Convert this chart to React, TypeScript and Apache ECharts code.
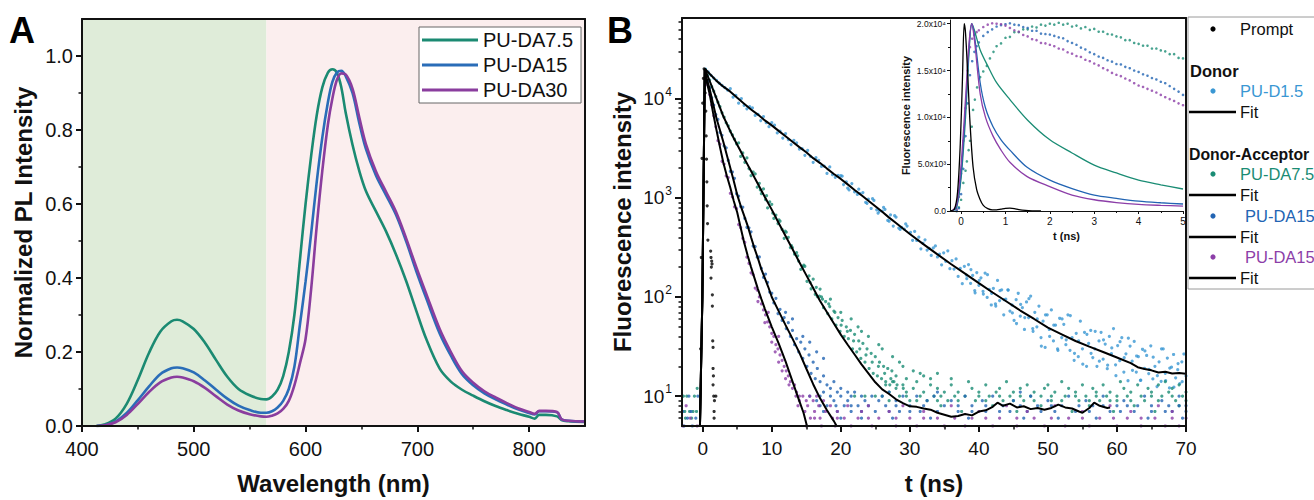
import React, { useEffect, useRef } from 'react';
import * as echarts from 'echarts';

const FONT = '"Liberation Sans", Arial, Helvetica, sans-serif';
const INK = '#111111';

// ---------------- Panel A : PL spectra ----------------
const wavelength = [413, 420, 430, 440, 450, 460, 470, 480, 485, 490, 500, 510, 520, 530, 540, 550, 560, 565, 570, 575, 580, 585, 590, 595, 600, 605, 610, 615, 620, 624, 628, 632, 636, 642, 648, 654, 663, 672, 681, 690, 699, 708, 720, 730, 740, 750, 760, 770, 780, 790, 800, 805, 809, 815, 825, 829, 835, 850];
const plDA75 = [0, 0.004, 0.02, 0.06, 0.125, 0.198, 0.255, 0.283, 0.287, 0.283, 0.262, 0.225, 0.178, 0.133, 0.1, 0.083, 0.073, 0.072, 0.08, 0.098, 0.135, 0.2, 0.3, 0.45, 0.6, 0.73, 0.84, 0.915, 0.955, 0.964, 0.955, 0.915, 0.845, 0.76, 0.69, 0.635, 0.58, 0.526, 0.463, 0.392, 0.312, 0.235, 0.155, 0.12, 0.098, 0.082, 0.067, 0.054, 0.043, 0.033, 0.025, 0.02, 0.03, 0.03, 0.026, 0.016, 0.013, 0.011];
const plDA15 = [0, 0.002, 0.012, 0.035, 0.07, 0.107, 0.14, 0.156, 0.158, 0.156, 0.145, 0.123, 0.098, 0.074, 0.055, 0.043, 0.036, 0.036, 0.04, 0.05, 0.068, 0.1, 0.16, 0.275, 0.39, 0.52, 0.66, 0.78, 0.875, 0.93, 0.955, 0.96, 0.945, 0.9, 0.82, 0.749, 0.677, 0.624, 0.57, 0.499, 0.419, 0.345, 0.25, 0.19, 0.14, 0.11, 0.088, 0.072, 0.058, 0.045, 0.035, 0.031, 0.04, 0.04, 0.037, 0.018, 0.014, 0.012];
const plDA30 = [0, 0.002, 0.01, 0.03, 0.06, 0.092, 0.118, 0.131, 0.133, 0.131, 0.121, 0.103, 0.08, 0.058, 0.042, 0.032, 0.026, 0.025, 0.028, 0.034, 0.046, 0.068, 0.11, 0.17, 0.235, 0.37, 0.54, 0.69, 0.815, 0.885, 0.935, 0.953, 0.95, 0.912, 0.835, 0.762, 0.688, 0.633, 0.578, 0.507, 0.43, 0.357, 0.262, 0.2, 0.148, 0.117, 0.094, 0.077, 0.062, 0.048, 0.038, 0.033, 0.041, 0.041, 0.038, 0.018, 0.014, 0.012];
const donorBand = [400, 565];
const acceptorBand = [565, 850];
const aXTicks = [400, 500, 600, 700, 800];
const aXMinor = [450, 550, 650, 750];
const aYTicks = [0, 0.2, 0.4, 0.6, 0.8, 1.0];
const aYMinor = [0.1, 0.3, 0.5, 0.7, 0.9];

// ---------------- Panel B : TCSPC decays ----------------
const fitD15 = [[-0.4, 5], [-0.05, 100], [0.3, 20000], [1, 17800], [2, 15100], [3, 13200], [4, 11750], [5, 10200], [6, 8900], [7, 7760], [8, 6900], [9, 6030], [10, 5370], [11, 4730], [12, 4170], [13, 3670], [14, 3240], [15, 2880], [16, 2510], [17, 2240], [18, 1970], [19, 1740], [20, 1550], [21, 1365], [22, 1200], [23, 1060], [24, 933], [25, 822], [26, 724], [27, 631], [28, 556], [29, 490], [30, 431], [32, 339], [34, 269], [36, 214], [38, 172], [40, 138], [42, 111], [44, 90], [46, 73], [48, 60], [50, 49], [52, 42], [54, 36], [56, 31.6], [58, 27.9], [60, 24.5], [62, 21.5], [63, 19.6], [64, 18.8], [65, 18.2], [66, 17.3], [67, 17.6], [68, 16.9], [69, 17.1], [70, 16.8]];
const fitDA75 = [[-0.4, 5], [-0.05, 100], [0.3, 20000], [0.6, 17800], [1, 15100], [1.5, 12300], [2, 10000], [2.5, 8130], [3, 6600], [3.5, 5560], [4, 4680], [4.5, 3980], [5, 3430], [5.5, 2950], [6, 2510], [6.5, 2160], [7, 1860], [7.5, 1600], [8, 1380], [9, 1020], [10, 760], [11, 556], [12, 412], [13, 305], [14, 224], [15, 166], [16, 123], [17, 91], [18, 70], [19, 54], [20, 41.7], [21, 33], [22, 26.3], [23, 20.9], [24, 17], [25, 13.8], [26, 11.7], [27, 10.5], [28, 9.3], [29, 8.5], [30, 7.9], [31, 7.8], [32, 7.5], [33, 7.3], [34, 6.8], [35, 6.5], [36, 6.2], [37, 6.3], [38, 6.6], [39, 6.4], [40, 7.0], [41, 7.2], [42, 7.8], [42.7, 8.6], [43.5, 8.0], [44.5, 8.4], [45.5, 7.7], [46.5, 7.9], [47.5, 7.4], [48.5, 7.6], [49.5, 7.3], [50.5, 7.6], [51.5, 8.2], [52.5, 7.7], [53.5, 7.5], [54.5, 7.0], [55, 6.8], [56, 7.6], [56.7, 8.6], [57.5, 8.0], [58.6, 7.6], [59, 7.7]];
const fitDA15 = [[-0.4, 5], [-0.05, 100], [0.3, 19500], [0.6, 15800], [1, 12600], [1.5, 8900], [2, 6300], [2.5, 4790], [3, 3630], [3.5, 2690], [4, 2000], [4.5, 1480], [5, 1070], [5.5, 830], [6, 660], [6.5, 525], [7, 400], [7.5, 309], [8, 245], [8.5, 190], [9, 155], [9.5, 126], [10, 100], [11, 72], [12, 52], [13, 38], [14, 27.5], [15, 19], [16, 13.2], [17, 9.5], [18, 7.2], [19, 5.6], [19.4, 5]];
const fitDA30 = [[-0.4, 5], [-0.05, 100], [0.3, 19500], [0.6, 14500], [1, 11200], [1.5, 7200], [2, 4800], [2.5, 3240], [3, 2240], [3.5, 1660], [4, 1260], [4.5, 930], [5, 710], [5.5, 500], [6, 355], [6.5, 263], [7, 200], [7.5, 155], [8, 120], [8.5, 95], [9, 76], [10, 50], [11, 34], [12, 22.4], [13, 14.1], [14, 8.9], [14.6, 6.8], [15.1, 5]];

const dotsD15 = [[0.4, 19800], [0.8, 18600], [1.2, 17200], [1.6, 16100], [2.0, 15300], [2.4, 14300], [2.8, 13600], [3.2, 12900], [3.6, 12200],
  [4.0, 12600], [4.4, 10340], [4.8, 10800], [5.2, 9000], [5.6, 10000], [6.0, 8540], [6.4, 7900], [6.8, 8300], [7.2, 8060], [7.6, 6770], [8.0, 6940], [8.4, 6000], [8.8, 6590], [9.2, 5720], [9.6, 5210], [10.0, 5720], [10.4, 5400], [10.8, 4510], [11.2, 4690], [11.6, 4000], [12.0, 4430], [12.4, 3860], [12.8, 3440], [13.2, 3800], [13.6, 3580], [14.0, 3100], [14.4, 3140], [14.8, 2680], [15.2, 3000], [15.6, 2620], [16.0, 2280], [16.4, 2540], [16.8, 2390], [17.2, 2070], [17.6, 2090], [18.0, 1760], [18.4, 2050], [18.8, 1710], [19.2, 1610], [19.6, 1680], [20.0, 1670], [20.2, 1650], [20.4, 1360], [20.8, 1450], [21.0, 1250], [21.2, 1200], [21.6, 1390], [22.0, 1145], [22.4, 1080], [22.6, 1220], [22.8, 1100], [23.2, 1130], [23.6, 900], [23.8, 880], [24.0, 970], [24.4, 780], [24.6, 980], [24.8, 940], [25.2, 757], [25.4, 700], [25.6, 735], [26.0, 735], [26.2, 800], [26.4, 763], [26.8, 592], [27.0, 580], [27.2, 673], [27.6, 519], [27.8, 660], [28.0, 637], [28.4, 495], [28.6, 480], [28.8, 502], [29.2, 483], [29.4, 545], [29.6, 519],
  [30.1, 448], [30.4, 373], [30.7, 458], [31.0, 371], [31.3, 401], [31.6, 306], [31.9, 348], [32.2, 377], [32.5, 297], [32.8, 309], [33.1, 262], [33.4, 312], [33.7, 327], [34.0, 253], [34.3, 271], [34.6, 211], [34.9, 279], [35.2, 229], [35.5, 292], [35.8, 193], [36.1, 232], [36.4, 191], [36.7, 242], [37.0, 161], [37.3, 194], [37.6, 136], [37.9, 204], [38.2, 166], [38.5, 212], [38.8, 137], [39.1, 165], [39.4, 116], [39.7, 176], [40.0, 131], [40.3, 156], [40.6, 114], [40.9, 174], [41.2, 99], [41.5, 119], [41.8, 83], [42.1, 122], [42.4, 85], [42.7, 147], [43.0, 92], [43.3, 118], [43.6, 66], [43.9, 95], [44.2, 118], [44.5, 72], [44.8, 83], [45.1, 58], [45.4, 94], [45.7, 109], [46.0, 64], [46.3, 78], [46.6, 47], [46.9, 89], [47.2, 62], [47.5, 102], [47.8, 48], [48.1, 70], [48.4, 50], [48.7, 81], [49.0, 39], [49.3, 57], [49.6, 31], [49.9, 66], [50.2, 47], [50.5, 74], [50.8, 36], [51.1, 52], [51.4, 30], [51.7, 61], [52.0, 39], [52.3, 53], [52.6, 33], [52.9, 66], [53.2, 29], [53.5, 39], [53.8, 23], [54.1, 43], [54.4, 25], [54.7, 57], [55.0, 30], [55.3, 44], [55.6, 20], [55.9, 34], [56.2, 46], [56.5, 24.5], [56.8, 30], [57.1, 20], [57.4, 36], [57.7, 44], [58.0, 23.6], [58.3, 33.5], [58.6, 18.9], [58.9, 40], [59.2, 26.8], [59.5, 48], [59.8, 20.7], [60.1, 32.4], [60.4, 22.8], [60.7, 38.9], [61.0, 17.5], [61.3, 26.7], [61.6, 14.3], [61.9, 32], [62.2, 22.5], [62.5, 35.6], [62.8, 17.5], [63.1, 25], [63.4, 14.4], [63.7, 29.7], [64.0, 19.1], [64.3, 25.7], [64.6, 16.9], [64.9, 32.2], [65.2, 14.9], [65.5, 20], [65.8, 12.5], [66.1, 22.2], [66.4, 14.1], [66.7, 29.9], [67.0, 17], [67.3, 24.2], [67.6, 12.1], [67.9, 19.6], [68.2, 26.3], [68.5, 15.3], [68.8, 18.5], [69.1, 13.4], [69.4, 22.2], [69.7, 26.6], [70.0, 16],
  [38.25, 153], [38.85, 189], [39.45, 110], [40.05, 147], [40.65, 107], [41.25, 168], [41.85, 109], [42.45, 81], [43.05, 116], [43.65, 94], [44.25, 117], [44.85, 69], [45.45, 54], [46.05, 84], [46.65, 62], [47.25, 96], [47.85, 45], [48.45, 60], [49.05, 32], [49.65, 66], [50.25, 40], [50.85, 52], [51.45, 29], [52.05, 60], [52.65, 37], [53.25, 65], [53.85, 27], [54.45, 36], [55.05, 21], [55.65, 42], [56.25, 27], [56.85, 45], [57.45, 22.5], [58.05, 37], [58.65, 20.5], [59.25, 30.6], [59.85, 16.1], [60.45, 35.4], [61.05, 24.4], [61.65, 38.4], [62.25, 18.2], [62.85, 25.4], [63.45, 14.5], [64.05, 28.6], [64.65, 18.6], [65.25, 24.7], [65.85, 16.1], [66.45, 30], [67.05, 14.3], [67.65, 19.2], [68.25, 12.3], [68.85, 21.3], [69.45, 14]];

const dotsDA75 = [[0.4, 19500], [0.7, 17200], [1.0, 15400], [1.3, 13200], [1.6, 11900], [1.9, 10500], [2.2, 9200], [2.5, 8300], [2.8, 7200], [3.1, 6500], [3.4, 5700], [3.7, 5300], [4.0, 4700], [4.3, 4300], [4.6, 3900], [4.9, 3500],
  [5.2, 3575], [5.5, 2610], [5.8, 2835], [6.1, 2280], [6.4, 2520], [6.7, 1970], [7.0, 1670], [7.3, 1820], [7.6, 1740], [7.9, 1280], [8.2, 1400], [8.35, 1200], [8.5, 1100], [8.8, 1230], [9.1, 960], [9.25, 1050], [9.4, 790], [9.7, 910], [10.0, 860], [10.15, 700], [10.3, 620], [10.6, 670], [10.9, 550], [11.05, 600], [11.2, 580], [11.5, 480], [11.8, 390], [11.95, 460], [12.1, 450], [12.4, 400], [12.7, 315], [12.85, 330], [13.0, 315], [13.3, 270], [13.6, 280], [13.75, 260], [13.9, 230], [14.2, 190], [14.5, 203], [14.65, 210], [14.8, 204], [15.1, 144], [15.4, 163], [15.55, 140], [15.7, 121], [16.0, 151], [16.3, 106], [16.45, 125], [16.6, 101], [16.9, 102],
  [17.0, 120], [17.2, 100], [17.35, 95], [17.5, 78], [17.8, 90], [18.1, 68], [18.25, 85], [18.4, 80], [18.5, 95], [18.7, 60], [19.0, 72], [19.15, 70], [19.3, 52], [19.6, 62], [19.9, 45], [20.0, 70], [20.05, 52], [20.2, 58], [20.5, 40], [20.8, 50], [20.95, 45], [21.1, 38], [21.4, 46], [21.5, 60], [21.7, 30], [21.85, 36], [22.0, 42], [22.3, 28], [22.5, 50], [22.6, 36], [22.75, 30], [22.9, 24], [23.0, 45], [23.2, 34], [23.5, 22], [23.65, 26], [23.8, 30], [24.0, 40], [24.1, 19], [24.4, 27], [24.55, 22], [24.7, 17], [25.0, 25], [25.3, 16], [25.45, 20], [25.5, 33], [25.6, 22], [25.9, 15], [26.0, 30], [26.2, 20], [26.35, 17], [26.5, 14], [26.8, 19], [27.1, 13], [27.25, 15], [27.4, 18], [27.5, 25], [27.7, 14], [28.0, 16], [28.15, 13], [28.5, 22], [29.0, 20], [29.05, 12], [29.5, 15], [30.5, 18], [31.5, 17], [32.0, 16], [33.0, 15], [34.0, 17], [36.0, 15]];
const floorDA75 = [[-2.8, 10], [-2.3, 10], [-1.2, 10], [-2.6, 7], [-1.9, 7], [-1.4, 7], [-0.9, 7], [-2.5, 6], [-1.6, 6], [-0.8, 12],
  [27.5, 14], [31, 14], [38.5, 14], [44, 14], [52, 14], [60.5, 14], [67, 14],
  [26.5, 13], [29, 13], [33, 13], [36, 13], [41, 13], [47, 13], [50, 13], [55, 13], [58, 13], [63, 13], [66, 13], [69, 13],
  [28, 12], [30.5, 12], [34, 12], [39, 12], [43, 12], [46, 12], [49.5, 12], [53, 12], [56.5, 12], [61, 12], [64.5, 12], [68, 12],
  [27, 11], [29.5, 11], [32, 11], [35, 11], [37, 11], [40, 11], [42.5, 11], [45, 11], [48, 11], [51, 11], [54, 11], [57, 11], [59, 11], [62, 11], [65, 11], [67.5, 11], [70, 11],
  [22, 10], [23.5, 10], [25, 10], [26, 10], [28.5, 10], [29.5, 10], [31.5, 10], [33.5, 10], [34.5, 10], [36.5, 10], [38, 10], [40, 10], [41.5, 10], [43, 10], [44.5, 10], [46, 10], [47.5, 10], [49, 10], [50.5, 10], [52.5, 10], [54, 10], [55.5, 10], [57, 10], [58.5, 10], [60, 10], [61.5, 10], [63.5, 10], [65, 10], [66.5, 10], [68, 10], [69.5, 10],
  [27, 9], [30, 9], [31, 9], [32.5, 9], [34, 9], [35.5, 9], [37, 9], [39.5, 9], [41, 9], [43.5, 9], [45, 9], [46.5, 9], [48, 9], [50.5, 9], [52, 9], [54.5, 9], [56, 9], [57.5, 9], [59, 9], [60, 9], [62, 9], [64, 9], [66, 9], [68.5, 9], [70, 9],
  [34.5, 8], [42, 8], [49, 8], [56, 8], [62.5, 8], [69, 8],
  [37.5, 7], [45.5, 7], [53.5, 7], [59.5, 7], [65.5, 7]];

const dotsDA15 = [[0.4, 19000], [0.7, 15000], [1.0, 12800], [1.3, 10200], [1.6, 8600], [1.9, 6900], [2.2, 6160], [2.5, 4560], [2.8, 4260], [3.1, 3330], [3.4, 3190], [3.7, 2380], [4.0, 1850], [4.3, 1820], [4.6, 1570], [4.9, 1100], [5.2, 1040], [5.5, 817], [5.8, 803], [6.1, 620], [6.4, 504], [6.7, 498], [7.0, 454], [7.3, 326], [7.6, 322], [7.9, 252], [8.2, 253], [8.5, 194], [8.8, 158], [9.1, 170], [9.4, 140], [9.7, 112], [10.0, 109], [10.3, 87], [10.6, 97], [10.9, 68], [11.2, 75], [11.5, 58], [11.8, 62], [12.0, 70], [12.1, 48], [12.4, 55], [12.7, 40], [13.0, 46], [13.0, 60], [13.3, 33], [13.6, 38], [13.9, 28], [14.2, 35], [14.5, 24], [14.5, 40], [14.8, 30], [15.1, 20], [15.4, 26], [15.5, 35], [15.7, 17], [16.0, 22], [16.3, 15], [16.5, 28], [16.6, 19], [17.0, 14], [17.5, 16], [17.5, 24], [18.0, 13], [18.5, 12], [19.0, 14], [20.0, 12], [21.0, 11]];
const floorDA15 = [[-2.0, 10], [-0.7, 10], [-2.9, 7], [-1.7, 7], [-2.2, 6], [-1.0, 6], [-2.7, 5], [-1.5, 5],
  [17.5, 11], [19.5, 11], [22, 11], [27, 11], [34, 11], [46, 11],
  [15.5, 10], [17, 10], [18.5, 10], [20, 10], [21.5, 10], [23, 10], [24.5, 10], [26, 10], [29, 10], [31, 10], [33.5, 10], [38, 10], [42, 10], [47.5, 10], [53, 10], [58, 10], [64, 10], [69, 10],
  [16.5, 9], [19, 9], [21, 9], [23.5, 9], [25.5, 9], [28, 9], [32.5, 9], [36, 9], [40.5, 9], [45, 9], [50, 9], [55.5, 9], [61, 9], [66.5, 9],
  [17, 8], [18, 8], [19.3, 8], [20.5, 8], [21.5, 8], [22.5, 8], [24, 8], [26.5, 8], [28, 8], [30, 8], [32, 8], [35, 8], [37, 8], [39, 8], [41, 8], [43.5, 8], [46, 8], [48.5, 8], [50.5, 8], [52, 8], [54.5, 8], [56.5, 8], [58, 8], [60, 8], [61.5, 8], [63, 8], [65, 8], [67.5, 8], [69, 8], [70, 8],
  [17.5, 7], [19.5, 7], [21.5, 7], [23, 7], [25, 7], [27, 7], [28.5, 7], [30, 7], [31.5, 7], [34, 7], [37, 7], [39, 7], [41, 7], [43, 7], [44.5, 7], [47, 7], [49, 7], [51, 7], [54, 7], [56, 7], [59, 7], [60.5, 7], [62.5, 7], [65, 7], [67, 7], [68, 7], [70, 7],
  [20, 6], [23, 6], [27.5, 6], [33, 6], [38.5, 6], [46.5, 6], [51.5, 6], [57, 6], [64.5, 6], [69.5, 6]];

const dotsDA30 = [[0.4, 18500], [0.7, 13800], [1.0, 11000], [1.3, 8600], [1.6, 6700], [1.9, 5200], [2.2, 3770], [2.5, 3470], [2.8, 2330], [3.1, 2190], [3.4, 1660], [3.7, 1600], [4.0, 1110], [4.3, 1020], [4.6, 810], [4.9, 777], [5.2, 537], [5.5, 500], [5.8, 390], [6.1, 356], [6.4, 252], [6.7, 218], [7.0, 175], [7.3, 168], [7.6, 123], [7.9, 117], [8.0, 90], [8.2, 100], [8.5, 85], [8.8, 74], [9.0, 55], [9.1, 66], [9.4, 56], [9.5, 70], [9.7, 50], [10.0, 43], [10.0, 35], [10.3, 40], [10.5, 28], [10.6, 33], [10.9, 30], [11.0, 22], [11.0, 40], [11.2, 26], [11.5, 23], [11.5, 18], [11.8, 20], [12.0, 15], [12.1, 18], [12.4, 16], [12.5, 13], [12.7, 14], [13.0, 12], [13.3, 13], [13.6, 11], [14.0, 10]];
const floorDA30 = [[-2.4, 8], [-1.8, 6], [-2.9, 5], [-0.8, 5],
  [13.5, 10], [14.5, 10], [15.5, 10], [16.5, 10],
  [14, 9], [15, 9], [16, 9], [17.5, 9],
  [13.8, 8], [15.2, 8], [16.8, 8], [18.5, 8], [21, 8], [24, 8], [29, 8], [36, 8], [44, 8], [51, 8], [59, 8], [66, 8],
  [14.8, 7], [16.2, 7], [17.8, 7], [19.5, 7], [23, 7], [27, 7], [32, 7], [40, 7], [47, 7], [55, 7], [62, 7], [68, 7],
  [15.6, 6], [16.2, 6], [17, 6], [18.8, 6], [19.5, 6], [20.5, 6], [22.5, 6], [24, 6], [25.5, 6], [28, 6], [30, 6], [32, 6], [34, 6], [36.5, 6], [39, 6], [41, 6], [43, 6], [45.5, 6], [48, 6], [50.5, 6], [53, 6], [55, 6], [57.5, 6], [59.5, 6], [61.5, 6], [63.5, 6], [65.5, 6], [68, 6], [70, 6],
  [15, 5], [17.2, 5], [19.2, 5], [21.5, 5], [24.5, 5], [28, 5], [31, 5], [35, 5], [38, 5], [42, 5], [45.5, 5], [49.5, 5], [52.5, 5], [56, 5], [60, 5], [63.5, 5], [67, 5], [69, 5]];

const promptDots = [[-0.3, 30], [-0.2, 250], [-0.1, 2500], [0.0, 9000], [0.1, 16000], [0.2, 20000], [0.35, 11400], [0.45, 7500], [0.5, 4200], [0.55, 2450], [0.6, 1450], [0.65, 830], [0.7, 550], [0.75, 375], [1.15, 290], [1.2, 250], [1.3, 230], [1.25, 200], [1.35, 215], [1.2, 155], [1.4, 105], [1.4, 81], [1.45, 36], [1.5, 31], [1.5, 19], [1.55, 16], [1.5, 13], [1.6, 10], [1.9, 10], [1.7, 9], [1.65, 7], [1.65, 6]];

const bXTicks = [0, 10, 20, 30, 40, 50, 60, 70];
const bXMinor = [5, 15, 25, 35, 45, 55, 65];
const bYMin = 5;
const bYMax = 65000;
const bYDecades = [10, 100, 1000, 10000];
const bYMinor = [6, 7, 8, 9, 20, 30, 40, 50, 60, 70, 80, 90, 200, 300, 400, 500, 600, 700, 800, 900, 2000, 3000, 4000, 5000, 6000, 7000, 8000, 9000, 20000, 30000, 40000, 50000, 60000];

// ---------------- Inset ----------------
const insetPrompt = [[-0.25, 0], [-0.15, 200], [-0.08, 2000], [-0.02, 7000], [0.03, 14000], [0.07, 20000], [0.1, 19000], [0.15, 14500], [0.2, 9500], [0.27, 4700], [0.35, 2300], [0.43, 1200], [0.5, 600], [0.6, 250], [0.7, 120], [0.8, 120], [0.9, 200], [1.0, 280], [1.1, 300], [1.2, 250], [1.3, 150], [1.45, 60], [1.6, 20], [1.8, 0]];
const insetLineDA75 = [[-0.2, 0], [-0.1, 400], [0, 3500], [0.1, 10000], [0.18, 17000], [0.24, 20000], [0.3, 19300], [0.43, 17200], [0.6, 15500], [0.8, 13700], [1.1, 11900], [1.5, 9700], [2, 7600], [2.5, 6200], [3, 4900], [3.5, 4060], [4, 3300], [4.5, 2800], [5, 2350]];
const insetLineDA15 = [[-0.2, 0], [-0.1, 500], [0, 4000], [0.1, 11000], [0.18, 17500], [0.24, 20000], [0.3, 18800], [0.43, 13700], [0.55, 11000], [0.72, 9000], [0.9, 7600], [1.1, 6500], [1.48, 4700], [2, 3300], [2.5, 2400], [3, 1700], [3.5, 1350], [4, 1050], [4.5, 880], [5, 750]];
const insetLineDA30 = [[-0.2, 0], [-0.1, 700], [0, 5000], [0.1, 12000], [0.18, 18000], [0.24, 20000], [0.3, 18300], [0.43, 12500], [0.55, 10000], [0.72, 8000], [0.9, 6500], [1.1, 5200], [1.48, 3700], [2, 2600], [2.5, 1700], [3, 1200], [3.5, 900], [4, 700], [4.5, 600], [5, 530]];
const insetDotsDA75 = [[-0.1, 0], [-0.05, 400], [0, 1200], [0.05, 3000], [0.1, 4300], [0.13, 5300], [0.17, 6500], [0.2, 7500], [0.24, 9000], [0.27, 10800], [0.31, 11900], [0.36, 13200], [0.43, 14300], [0.5, 14900], [0.58, 15500], [0.65, 16300], [0.73, 17000], [0.8, 17600], [0.9, 17900], [1.0, 18500], [1.1, 18600], [1.2, 19100], [1.3, 19100], [1.4, 19400], [1.5, 19400], [1.6, 19700], [1.7, 19600], [1.8, 19900], [1.9, 19800], [2.0, 20000], [2.1, 19900], [2.2, 20100], [2.3, 19900], [2.4, 20000], [2.5, 19700], [2.6, 19800], [2.7, 19500], [2.8, 19650], [2.9, 19350], [3.0, 19450], [3.1, 19150], [3.2, 19150], [3.3, 18900], [3.4, 18850], [3.5, 18650], [3.6, 18550], [3.7, 18250], [3.8, 18250], [3.9, 17950], [4.0, 17850], [4.1, 17650], [4.2, 17650], [4.3, 17350], [4.4, 17350], [4.5, 17150], [4.6, 17050], [4.7, 16750], [4.8, 16750], [4.9, 16350], [5.0, 16300]];
const insetDotsDA15 = [[-0.1, 0], [-0.05, 300], [0, 1800], [0.05, 4500], [0.1, 8000], [0.15, 11500], [0.2, 14500], [0.25, 16000], [0.3, 17000], [0.35, 17600], [0.4, 18000], [0.5, 18700], [0.6, 19100], [0.7, 19400], [0.8, 19700], [0.9, 19850], [1.0, 19950], [1.1, 20050], [1.2, 19900], [1.3, 19850], [1.4, 19650], [1.5, 19550], [1.6, 19250], [1.7, 19250], [1.8, 18950], [1.9, 18900], [2.0, 18850], [2.1, 18700], [2.2, 18550], [2.3, 18450], [2.4, 18150], [2.5, 17950], [2.6, 17750], [2.7, 17450], [2.8, 17250], [2.9, 16950], [3.0, 16750], [3.1, 16500], [3.2, 16350], [3.3, 16100], [3.4, 15950], [3.5, 15700], [3.6, 15650], [3.7, 15400], [3.8, 15250], [3.9, 15000], [4.0, 14850], [4.1, 14600], [4.2, 14450], [4.3, 14200], [4.4, 14050], [4.5, 13800], [4.6, 13650], [4.7, 13350], [4.8, 13050], [4.9, 12750], [5.0, 12400]];
const insetDotsDA30 = [[-0.1, 200], [-0.05, 1500], [0, 4000], [0.05, 7500], [0.1, 11000], [0.15, 15000], [0.2, 17500], [0.25, 18400], [0.3, 18800], [0.35, 19100], [0.4, 19300], [0.5, 19650], [0.6, 19900], [0.7, 20050], [0.8, 20000], [0.9, 19950], [1.0, 19800], [1.1, 19550], [1.2, 19300], [1.3, 19150], [1.4, 18800], [1.5, 18650], [1.6, 18350], [1.7, 18250], [1.8, 17950], [1.9, 17900], [2.0, 17750], [2.1, 17600], [2.2, 17350], [2.3, 17250], [2.4, 16950], [2.5, 16800], [2.6, 16550], [2.7, 16450], [2.8, 16150], [2.9, 16000], [3.0, 15750], [3.1, 15550], [3.2, 15250], [3.3, 15050], [3.4, 14750], [3.5, 14550], [3.6, 14400], [3.7, 14150], [3.8, 13950], [3.9, 13650], [4.0, 13400], [4.1, 13250], [4.2, 13050], [4.3, 12850], [4.4, 12650], [4.5, 12400], [4.6, 12150], [4.7, 11950], [4.8, 11750], [4.9, 11500], [5.0, 11300]];
const insetXTicks = [0, 1, 2, 3, 4, 5];
const insetXMinor = [0.5, 1.5, 2.5, 3.5, 4.5];
const insetYTicks = [0, 5000, 10000, 15000, 20000];
const insetYMinor = [2500, 7500, 12500, 17500];
const insetYLabels = ['0.0', '5.0x10³', '1.0x10⁴', '1.5x10⁴', '2.0x10⁴'];

// colours
const A_GREEN = '#1b8a72';
const A_BLUE = '#2a6db8';
const A_PURPLE = '#8a3d9e';
const C_D15 = '#3a97d3';
const C_DA75 = '#1a8c74';
const C_DA15 = '#2264b3';
const C_DA30 = '#8c3ea8';

function lineAxis(gridIndex: number, position: string, extra: any = {}) {
  return {
    type: 'value', gridIndex, position, min: 0, max: 1, z: 5,
    axisLine: { show: true, onZero: false, lineStyle: { color: INK, width: 2 } },
    axisTick: { show: false }, axisLabel: { show: false }, splitLine: { show: false },
    ...extra,
  };
}
function tickAxis(gridIndex: number, position: string, min: number, max: number, values: number[], len: number, width: number) {
  return {
    type: 'value', gridIndex, position, min, max, z: 5,
    axisLine: { show: false, onZero: false },
    axisTick: { show: true, customValues: values, length: len, lineStyle: { color: INK, width } },
    axisLabel: { show: false }, splitLine: { show: false },
  };
}

function buildOption() {
  const xAxis: any[] = [
    {
      type: 'value', gridIndex: 0, position: 'bottom', min: 400, max: 850, z: 5,
      axisLine: { show: true, onZero: false, lineStyle: { color: INK, width: 2 } },
      axisTick: { show: true, customValues: aXTicks, length: 6, lineStyle: { color: INK, width: 2 } },
      axisLabel: { customValues: aXTicks, fontSize: 20, color: INK, margin: 13, fontFamily: FONT },
      splitLine: { show: false },
      name: 'Wavelength (nm)', nameLocation: 'middle', nameGap: 45,
      nameTextStyle: { fontSize: 24, fontWeight: 'bold', color: INK, fontFamily: FONT },
    },
    tickAxis(0, 'bottom', 400, 850, aXMinor, 3.5, 1.5),
    lineAxis(0, 'top'),
    {
      type: 'value', gridIndex: 1, position: 'bottom', min: -3, max: 70, z: 5,
      axisLine: { show: true, onZero: false, lineStyle: { color: INK, width: 2 } },
      axisTick: { show: true, customValues: bXTicks, length: 6, lineStyle: { color: INK, width: 2 } },
      axisLabel: { customValues: bXTicks, fontSize: 19, color: INK, margin: 13, fontFamily: FONT },
      splitLine: { show: false },
      name: 't (ns)', nameLocation: 'middle', nameGap: 45,
      nameTextStyle: { fontSize: 24, fontWeight: 'bold', color: INK, fontFamily: FONT },
    },
    tickAxis(1, 'bottom', -3, 70, bXMinor, 3.5, 1.5),
    lineAxis(1, 'top'),
    {
      type: 'value', gridIndex: 2, position: 'bottom', min: -0.25, max: 5, z: 6,
      axisLine: { show: true, onZero: false, lineStyle: { color: INK, width: 1 } },
      axisTick: { show: true, customValues: insetXTicks, length: 3, lineStyle: { color: INK, width: 1 } },
      axisLabel: { customValues: insetXTicks, fontSize: 10, color: INK, margin: 5, fontFamily: FONT },
      splitLine: { show: false },
      name: 't (ns)', nameLocation: 'middle', nameGap: 19,
      nameTextStyle: { fontSize: 11, fontWeight: 'bold', color: INK, fontFamily: FONT },
    },
    tickAxis(2, 'bottom', -0.25, 5, insetXMinor, 2, 1),
  ];
  const yAxis: any[] = [
    {
      type: 'value', gridIndex: 0, position: 'left', min: 0, max: 1.1, z: 5,
      axisLine: { show: true, onZero: false, lineStyle: { color: INK, width: 2 } },
      axisTick: { show: true, customValues: aYTicks, length: 6, lineStyle: { color: INK, width: 2 } },
      axisLabel: { customValues: aYTicks, fontSize: 20, color: INK, margin: 9, fontFamily: FONT, formatter: (v: number) => v.toFixed(1) },
      splitLine: { show: false },
      name: 'Normalized PL Intensity', nameLocation: 'middle', nameGap: 47,
      nameTextStyle: { fontSize: 24, fontWeight: 'bold', color: INK, fontFamily: FONT },
    },
    tickAxis(0, 'left', 0, 1.1, aYMinor, 3.5, 1.5),
    lineAxis(0, 'right'),
    {
      type: 'log', gridIndex: 1, position: 'left', min: bYMin, max: bYMax, logBase: 10, z: 5,
      axisLine: { show: true, onZero: false, lineStyle: { color: INK, width: 2 } },
      axisTick: { show: false },
      axisLabel: {
        color: INK, margin: 10, fontFamily: FONT,
        formatter: (v: number) => {
          const e = Math.round(Math.log10(v));
          if (Math.abs(Math.log10(v) - e) > 1e-6 || bYDecades.indexOf(Math.pow(10, e)) < 0) return '';
          return `{b|10}{s|${e}}`;
        },
        rich: {
          b: { fontSize: 19, lineHeight: 26, color: INK, fontFamily: FONT },
          s: { fontSize: 12, lineHeight: 14, verticalAlign: 'top', color: INK, fontFamily: FONT, padding: [0, 0, 0, 1] },
        },
      },
      splitLine: { show: false },
      name: 'Fluorescence intensity', nameLocation: 'middle', nameGap: 48,
      nameTextStyle: { fontSize: 24, fontWeight: 'bold', color: INK, fontFamily: FONT },
    },
    tickAxis(1, 'left', Math.log10(bYMin), Math.log10(bYMax), bYDecades.map(Math.log10), 7, 2),
    tickAxis(1, 'left', Math.log10(bYMin), Math.log10(bYMax), bYMinor.map(Math.log10), 3.5, 1.5),
    lineAxis(1, 'right'),
    {
      type: 'value', gridIndex: 2, position: 'left', min: 0, max: 20400, z: 6,
      axisLine: { show: true, onZero: false, lineStyle: { color: INK, width: 1 } },
      axisTick: { show: true, customValues: insetYTicks, length: 3, lineStyle: { color: INK, width: 1 } },
      axisLabel: {
        customValues: insetYTicks, fontSize: 8.5, color: INK, margin: 4, fontFamily: FONT,
        formatter: (v: number) => insetYLabels[insetYTicks.indexOf(v)] ?? '',
      },
      splitLine: { show: false },
      name: 'Fluorescence intensity', nameLocation: 'middle', nameGap: 39,
      nameTextStyle: { fontSize: 11, fontWeight: 'bold', color: INK, fontFamily: FONT },
    },
    tickAxis(2, 'left', 0, 20400, insetYMinor, 2, 1),
  ];

  const pairs = (xs: number[], ys: number[]) => xs.map((x, i) => [x, ys[i]]);
  const aLine = (name: string, ys: number[], color: string) => ({
    name, type: 'line', xAxisIndex: 0, yAxisIndex: 0, data: pairs(wavelength, ys),
    showSymbol: false, smooth: 0.35, color, lineStyle: { color, width: 2.6 }, z: 3, silent: true,
  });
  const bDots = (name: string, data: number[][], color: string, size = 3.2) => ({
    name, type: 'scatter', xAxisIndex: 3, yAxisIndex: 3, data, symbol: 'circle', symbolSize: size,
    itemStyle: { color }, z: 2, silent: true,
  });
  const bFit = (name: string, data: number[][]) => ({
    name, type: 'line', xAxisIndex: 3, yAxisIndex: 3, data, showSymbol: false,
    lineStyle: { color: '#000', width: 2 }, z: 4, silent: true,
  });
  const iLine = (name: string, data: number[][], color: string, w = 1.3) => ({
    name, type: 'line', xAxisIndex: 6, yAxisIndex: 7, data, showSymbol: false, smooth: 0.3,
    lineStyle: { color, width: w }, z: 4, silent: true,
  });
  const iDots = (name: string, data: number[][], color: string) => ({
    name, type: 'scatter', xAxisIndex: 6, yAxisIndex: 7, data, symbolSize: 2.6,
    itemStyle: { color }, z: 3, silent: true,
  });

  const series: any[] = [
    {
      name: 'bands', type: 'line', xAxisIndex: 0, yAxisIndex: 0, data: [], silent: true,
      markArea: {
        silent: true,
        data: [
          [{ xAxis: donorBand[0], itemStyle: { color: '#dfecd9' } }, { xAxis: donorBand[1] }],
          [{ xAxis: acceptorBand[0], itemStyle: { color: '#fbeeee' } }, { xAxis: acceptorBand[1] }],
        ],
      },
    },
    aLine('PU-DA7.5', plDA75, A_GREEN),
    aLine('PU-DA15', plDA15, A_BLUE),
    aLine('PU-DA30', plDA30, A_PURPLE),

    bDots('b D1.5', dotsD15, C_D15),
    bDots('b DA7.5', dotsDA75.concat(floorDA75), C_DA75),
    bDots('b DA15', dotsDA15.concat(floorDA15), C_DA15),
    bDots('b DA30', dotsDA30.concat(floorDA30), C_DA30),
    bDots('b prompt', promptDots, '#000'),
    bFit('fit D1.5', fitD15),
    bFit('fit DA7.5', fitDA75),
    bFit('fit DA15', fitDA15),
    bFit('fit DA30', fitDA30),

    iDots('i DA7.5', insetDotsDA75, C_DA75),
    iDots('i DA15', insetDotsDA15, C_DA15),
    iDots('i DA30', insetDotsDA30, C_DA30),
    iLine('i L DA7.5', insetLineDA75, C_DA75),
    iLine('i L DA15', insetLineDA15, C_DA15),
    iLine('i L DA30', insetLineDA30, C_DA30),
    iLine('i prompt', insetPrompt, '#000', 1.3),
  ];

  const txt = (x: number, y: number, text: string, color = INK, bold = false, size = 16.5) => ({
    type: 'text', x, y, z: 20, silent: true,
    style: { text, fill: color, fontSize: size, fontWeight: bold ? 'bold' : 'normal', fontFamily: FONT, verticalAlign: 'middle', align: 'left' },
  });
  const dot = (cx: number, cy: number, color: string) => ({ type: 'circle', z: 20, silent: true, shape: { cx, cy, r: 2.6 }, style: { fill: color } });
  const seg = (y: number) => ({ type: 'line', z: 20, silent: true, shape: { x1: 1189, y1: y, x2: 1236, y2: y }, style: { stroke: '#000', lineWidth: 2.5 } });

  const graphic: any[] = [
    { type: 'text', x: 9, y: 30, z: 20, style: { text: 'A', fontSize: 36, fontWeight: 'bold', fontFamily: FONT, fill: '#000', verticalAlign: 'middle' } },
    { type: 'text', x: 607, y: 30, z: 20, style: { text: 'B', fontSize: 36, fontWeight: 'bold', fontFamily: FONT, fill: '#000', verticalAlign: 'middle' } },
    { type: 'rect', z: 19, silent: true, shape: { x: 1188, y: 17, width: 140, height: 272 }, style: { fill: '#fff', stroke: '#9a9a9a', lineWidth: 1 } },
    dot(1213, 29, '#000'), txt(1240, 29, 'Prompt'),
    txt(1190, 71, 'Donor', INK, true),
    dot(1213, 91, C_D15), txt(1240, 91, 'PU-D1.5', C_D15),
    seg(112), txt(1240, 112, 'Fit'),
    txt(1189, 154, 'Donor-Acceptor', INK, true, 15.8),
    dot(1213, 174, C_DA75), txt(1240, 174, 'PU-DA7.5', C_DA75),
    seg(195), txt(1240, 195, 'Fit'),
    dot(1213, 216, C_DA15), txt(1245, 216, 'PU-DA15', C_DA15),
    seg(237), txt(1240, 237, 'Fit'),
    dot(1213, 257, C_DA30), txt(1245, 257, 'PU-DA15', C_DA30),
    seg(278), txt(1240, 278, 'Fit'),
  ];

  return {
    animation: false,
    backgroundColor: '#ffffff',
    textStyle: { fontFamily: FONT },
    grid: [
      { left: 82, top: 19, width: 503, height: 411 },
      { left: 682, top: 18, width: 504, height: 411 },
      { left: 950, top: 20, width: 233, height: 191 },
    ],
    legend: {
      left: 419, top: 27, orient: 'vertical',
      data: [{ name: 'PU-DA7.5', icon: 'rect' }, { name: 'PU-DA15', icon: 'rect' }, { name: 'PU-DA30', icon: 'rect' }],
      itemWidth: 56, itemHeight: 3, itemGap: 5,
      padding: [3, 8, 3, 3],
      borderColor: '#666', borderWidth: 1, backgroundColor: '#ffffff',
      textStyle: { fontSize: 20, color: INK, fontFamily: FONT },
      selectedMode: false, z: 10,
    },
    xAxis, yAxis, series, graphic,
  };
}

export default function App() {
  const ref = useRef<HTMLDivElement>(null);
  useEffect(() => {
    document.body.style.margin = '0';
    const chart = echarts.init(ref.current as HTMLDivElement, null, { renderer: 'svg', width: 1314, height: 500 });
    chart.setOption(buildOption() as any);
    return () => chart.dispose();
  }, []);
  return <div ref={ref} style={{ position: 'absolute', left: 0, top: 0, width: 1314, height: 500, background: '#fff' }} />;
}
